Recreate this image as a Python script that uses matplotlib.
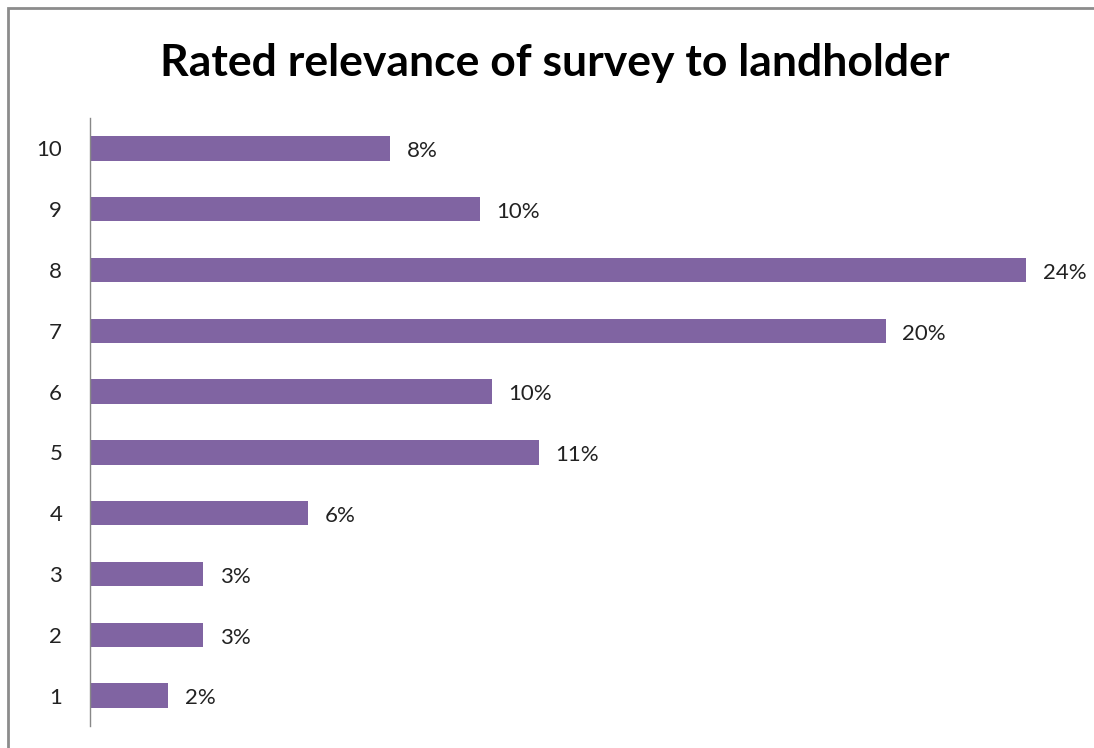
import matplotlib.pyplot as plt
from matplotlib.patches import Rectangle

# rating categories (bottom to top) and share of landholders
ratings = ['1', '2', '3', '4', '5', '6', '7', '8', '9', '10']
shares = [2.0, 2.9, 2.9, 5.6, 11.5, 10.3, 20.4, 24.0, 10.0, 7.7]
share_labels = ['2%', '3%', '3%', '6%', '11%', '10%', '20%', '24%', '10%', '8%']

plt.rcParams['font.family'] = ['Lato', 'DejaVu Sans']

W, H = 1094, 748
fig = plt.figure(figsize=(W / 100, H / 100), dpi=100)
fig.patch.set_facecolor('white')

# chart area frame (only top and left edges fall inside the image)
fig.patches.append(Rectangle((8 / W, -0.05), 1.2, 1 - 8 / H + 0.05,
                             transform=fig.transFigure, fill=False,
                             edgecolor='#8c8c8c', linewidth=2.0))

ax = fig.add_axes([90 / W, 1 - 726 / H, 975 / W, 608 / H])
pos = range(1, len(ratings) + 1)
ax.barh(pos, shares, height=0.4, color='#8064A2')
ax.set_ylim(0.5, len(ratings) + 0.5)
ax.set_xlim(0, 25)

ax.set_yticks(list(pos))
ax.set_yticklabels(ratings, fontsize=16, color='#222222')
ax.tick_params(axis='y', length=0, pad=20)
ax.set_xticks([])

for s in ['top', 'right', 'bottom']:
    ax.spines[s].set_visible(False)
ax.spines['left'].set_color('#888888')
ax.spines['left'].set_linewidth(1.0)

for p, v, lab in zip(pos, shares, share_labels):
    ax.annotate(lab, (v, p), xytext=(12, -2), textcoords='offset points',
                va='center', ha='left', fontsize=16, color='#222222')

fig.text(555 / W, 1 - 63 / H, 'Rated relevance of survey to landholder',
         ha='center', va='center', fontsize=32, fontweight='bold', color='black')

fig.savefig('out.png', dpi=100)
